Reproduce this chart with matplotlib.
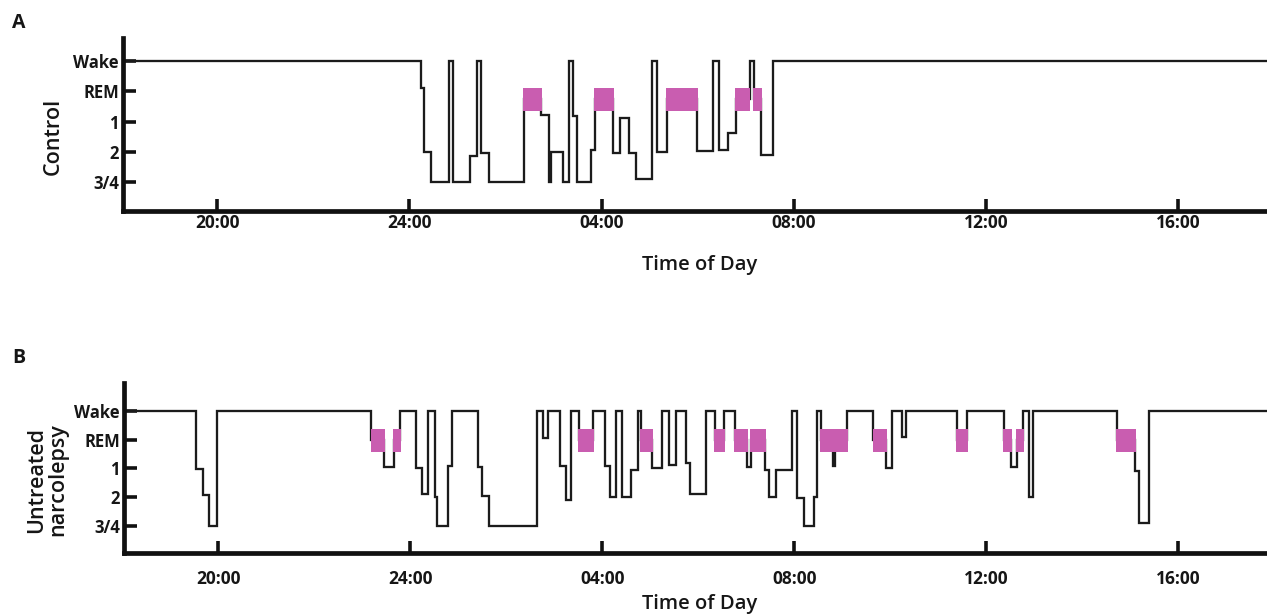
import matplotlib
matplotlib.use("Agg")
import matplotlib.pyplot as plt
import numpy as np

# ---------------- data (hours; 24+ = next day) ----------------
# stage levels: 3/4=0, 2=1, 1=2, REM=3, Wake=4
stage_ticks = [0, 1, 2, 3, 4]
stage_labels = ["3/4", "2", "1", "REM", "Wake"]
x_ticks = [20, 24, 28, 32, 36, 40]
x_tick_labels = ["20:00", "24:00", "04:00", "08:00", "12:00", "16:00"]

# Panel A: Control
a_times = [18.0, 24.246, 24.298, 24.454, 24.828, 24.901, 25.251, 25.405, 25.488,
           25.646, 26.379, 26.743, 26.899, 26.951, 27.201, 27.311, 27.409, 27.492,
           27.777, 27.856, 28.237, 28.373, 28.560, 28.720, 29.043, 29.151, 29.355,
           29.983, 30.316, 30.433, 30.629, 30.791, 31.078, 31.176, 31.311, 31.565, 42.0]
a_levels = [4, 3.12, 1.0, 0, 4, 0, 0.87, 4, 0.95,
            0, 2.74, 2.21, 0, 1.0, 0, 4, 2.18, 0,
            1.06, 2.74, 0.95, 2.12, 0.96, 0.1, 4, 1.0, 2.74,
            1.03, 4, 1.06, 1.61, 2.74, 4, 2.74, 0.89, 4]
a_rem = [0, 0, 0, 0, 0, 0, 0, 0, 0,
         0, 1, 0, 0, 0, 0, 0, 0, 0,
         0, 1, 0, 0, 0, 0, 0, 0, 1,
         0, 0, 0, 0, 1, 0, 1, 0, 0]
a_rem_band = (2.36, 3.12)

# Panel B: Untreated narcolepsy
b_times = [18.0, 19.532, 19.682, 19.802, 19.979, 23.195, 23.455, 23.663, 23.798,
           24.121, 24.239, 24.377, 24.512, 24.568, 24.780, 24.864, 25.417, 25.494,
           25.646, 26.653, 26.758, 26.862, 27.124, 27.257, 27.361, 27.513, 27.815,
           28.054, 28.164, 28.283, 28.422, 28.595, 28.747, 28.814, 29.032, 29.240,
           29.392, 29.532, 29.740, 29.829, 30.156, 30.354, 30.541, 30.774, 31.009,
           31.103, 31.384, 31.473, 31.613, 31.961, 32.064, 32.202, 32.410, 32.477,
           32.560, 32.810, 32.855, 33.111, 33.652, 33.913, 34.042, 34.250, 34.339,
           35.390, 35.605, 36.368, 36.514, 36.639, 36.760, 36.899, 36.982, 38.720,
           39.105, 39.178, 39.382, 42.0]
b_levels = [4, 1.99, 1.07, 0, 4, 2.97, 2.06, 2.97, 4,
            2.0, 1.1, 4, 1.0, 0, 2.07, 4, 2.03, 1.03,
            0, 4, 3.04, 4, 2.07, 0.9, 4, 2.97, 4,
            2.07, 1.0, 4, 1.0, 1.95, 4, 2.97, 2.0, 4,
            2.1, 4, 2.17, 1.12, 4, 2.97, 4, 2.97, 2.05,
            2.97, 1.95, 1.0, 1.95, 4, 0.95, 0, 0.99, 4,
            2.97, 2.07, 2.97, 4, 2.97, 2.0, 4, 3.1, 4,
            2.97, 4, 2.97, 2.05, 2.97, 4, 1.0, 4, 2.97,
            1.9, 0.08, 4]
b_rem = [0, 0, 0, 0, 0, 1, 0, 1, 0,
         0, 0, 0, 0, 0, 0, 0, 0, 0,
         0, 0, 0, 0, 0, 0, 0, 1, 0,
         0, 0, 0, 0, 0, 0, 1, 0, 0,
         0, 0, 0, 0, 0, 1, 0, 1, 0,
         1, 0, 0, 0, 0, 0, 0, 0, 0,
         1, 0, 1, 0, 1, 0, 0, 0, 0,
         1, 0, 1, 0, 1, 0, 0, 0, 1,
         0, 0, 0]
b_rem_band = (2.57, 3.36)

# ---------------- style ----------------
FONT = ["Open Sans", "DejaVu Sans"]
TXT = "#161616"
LINE_C = "#1b1b1b"
PINK = "#c95db0"
W, H = 1267, 615

fig = plt.figure(figsize=(W / 100, H / 100), dpi=100)


def px(x, y):
    return x / W, 1 - y / H


def draw_panel(rect, times, levels, rem, band, ylim, xpad, ylabel, ylabel_xy,
               xlabel_xy, letter, letter_xy):
    ax = fig.add_axes(rect)
    t = np.asarray(times, dtype=float)
    lv = np.asarray(levels + [levels[-1]], dtype=float)
    ax.plot(t, lv, drawstyle="steps-post", color=LINE_C, lw=1.65,
            solid_joinstyle="miter", zorder=2)
    pad = 0.02
    for i, flag in enumerate(rem):
        if flag:
            ax.fill_between([t[i] - pad, t[i + 1] + pad], band[0], band[1],
                            color=PINK, lw=0, zorder=3)
    ax.set_xlim(18.04, 41.85)
    ax.set_ylim(*ylim)
    for s in ("top", "right"):
        ax.spines[s].set_visible(False)
    for s in ("left", "bottom"):
        ax.spines[s].set_linewidth(3.4)
        ax.spines[s].set_color("#111111")
        ax.spines[s].set_capstyle("projecting")
    ax.set_yticks(stage_ticks)
    ax.set_yticklabels(stage_labels, fontfamily=FONT, fontweight="bold",
                       fontsize=12, color=TXT)
    ax.set_xticks(x_ticks)
    ax.set_xticklabels(x_tick_labels, fontfamily=FONT, fontweight="bold",
                       fontsize=12.5, color=TXT)
    ax.tick_params(axis="y", direction="in", length=9, width=2.6, pad=3,
                   color="#111111")
    ax.tick_params(axis="x", direction="in", length=9, width=2.6, pad=xpad,
                   color="#111111")
    fig.text(*px(*xlabel_xy), "Time of Day", fontfamily=FONT, fontsize=14.5,
             fontweight="semibold", color=TXT, ha="center", va="center")
    fig.text(*px(*ylabel_xy), ylabel, fontfamily=FONT, fontsize=15.5,
             fontweight="semibold", color=TXT, ha="center", va="center",
             rotation=90, linespacing=1.0, multialignment="center")
    fig.text(*px(*letter_xy), letter, fontfamily=FONT,
             fontsize=14, fontweight="bold", color=TXT,
             ha="left", va="center")
    return ax


axA = draw_panel([0.0971, 0.657, 0.903, 0.281], a_times, a_levels, a_rem,
                 a_rem_band, (-0.96, 4.76), 2.5, "Control", (53, 136),
                 (700, 265), "A", (12, 23))
axB = draw_panel([0.0979, 0.1013, 0.9021, 0.2754], b_times, b_levels, b_rem,
                 b_rem_band, (-0.94, 4.96), 12.5, "Untreated\nnarcolepsy",
                 (47, 480), (700, 604), "B", (12, 358))

fig.savefig("out.png", dpi=100, facecolor="white")
